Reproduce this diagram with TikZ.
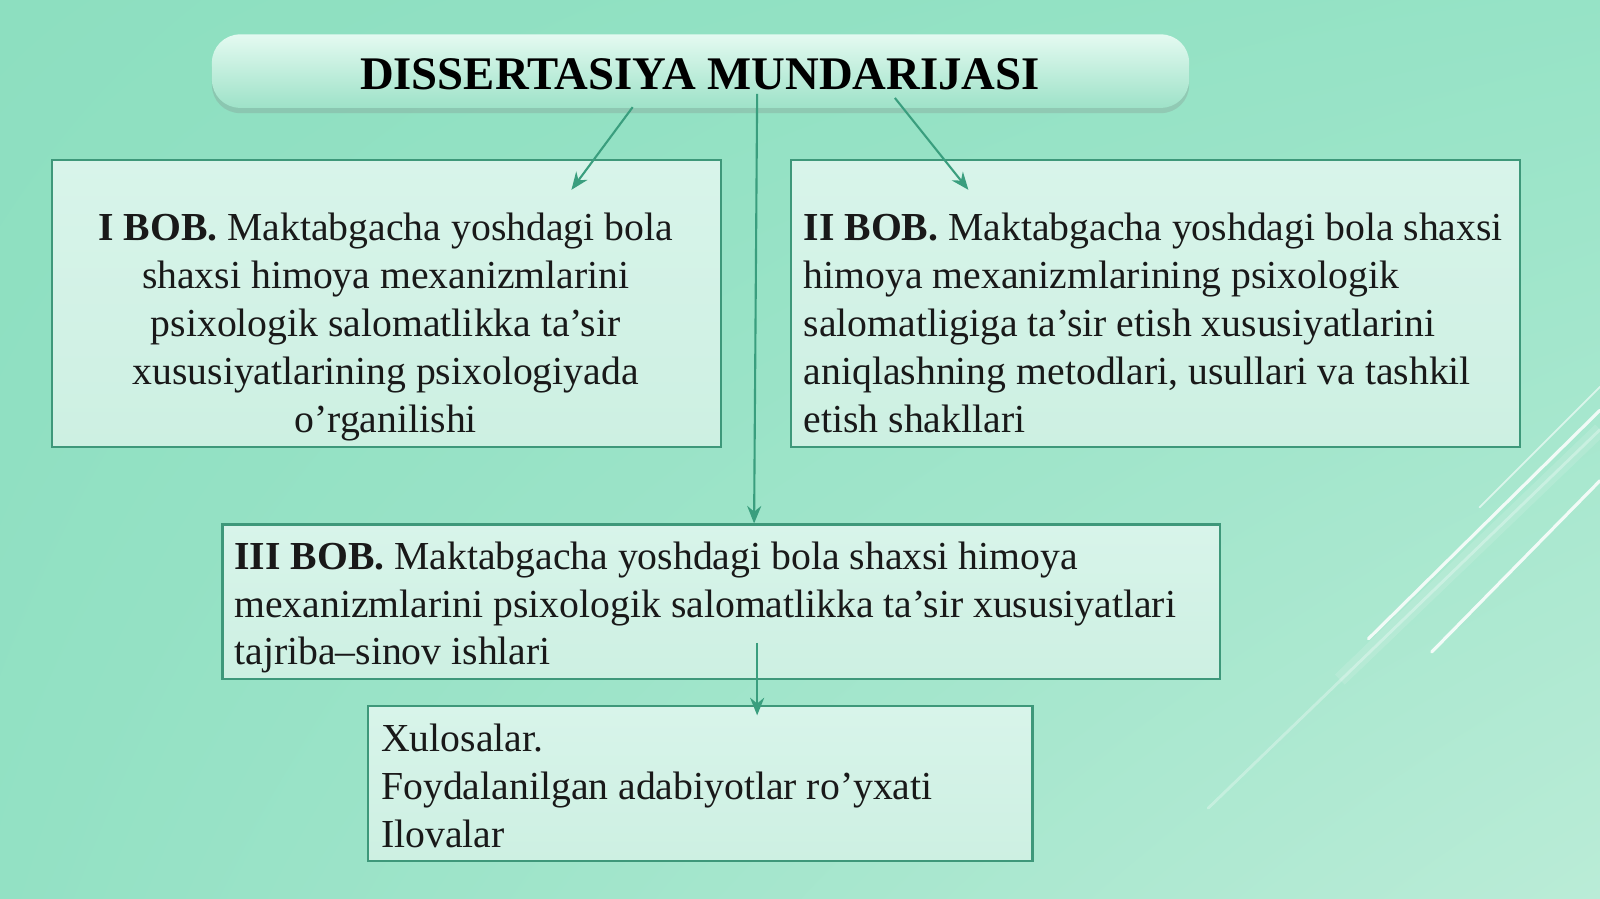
\documentclass[tikz,border=0pt]{standalone}
\usepackage{fontspec}
\setmainfont{Liberation Serif}
\usetikzlibrary{shadows,arrows.meta,shadings}
\definecolor{bgA}{RGB}{141,223,192}
\definecolor{bgB}{RGB}{150,227,198}
\definecolor{bgC}{RGB}{147,225,196}
\definecolor{bgD}{RGB}{186,236,215}
\definecolor{boxfill}{RGB}{216,244,234}
\definecolor{boxfillB}{RGB}{205,240,226}
\definecolor{boxline}{RGB}{62,152,122}
\definecolor{arrowcol}{RGB}{58,158,126}
\definecolor{titletop}{RGB}{228,250,241}
\definecolor{titlebot}{RGB}{158,226,200}
\tikzset{
  x=0.010204cm, y=-0.010204cm,
  chapbox/.style={draw=boxline, line width=0.6pt, top color=boxfill, bottom color=boxfillB, shading angle=0, inner sep=0pt, anchor=north west},
  bodytext/.style={inner sep=0pt, font=\fontsize{11.3}{13.64}\selectfont, text=black!90},
  conn/.style={draw=arrowcol, line width=0.6pt, -{Stealth[length=5pt,width=4pt]}},
  deco/.style={draw=white, line cap=round},
}
\begin{document}
\begin{tikzpicture}
\useasboundingbox (0,0) rectangle (1568,881);
\shade[upper left=bgA, upper right=bgB, lower left=bgC, lower right=bgD] (0,0) rectangle (1568,881);
% decorative lines
\draw[deco, line width=0.5pt, opacity=0.6] (1450,497) -- (1568,379);
\draw[deco, line width=0.9pt, opacity=0.85] (1341,626) -- (1568,402);
\draw[deco, line width=0.9pt, opacity=0.85] (1403,639) -- (1568,471);
\draw[deco, line width=0.8pt, opacity=0.3] (1184,792) -- (1568,421);
\draw[white, line width=4pt, opacity=0.12] (1313,666) -- (1568,421);
% title
\node[rounded corners=8pt, top color=titletop, bottom color=titlebot, drop shadow={opacity=0.25, shadow xshift=0pt, shadow yshift=-1.5pt}, minimum width=9.775cm, minimum height=0.735cm, anchor=north west, inner sep=0pt] (title) at (207,33) {};
\node[inner sep=0pt, anchor=base, font=\fontsize{13.3}{15}\selectfont\bfseries] (titletext) at (686,88) {DISSERTASIYA MUNDARIJASI};
% boxes
\node[chapbox, minimum width=6.694cm, minimum height=2.867cm] (b1) at (50,156) {};
\node[chapbox, minimum width=7.296cm, minimum height=2.867cm] (b2) at (774,156) {};
\node[chapbox, minimum width=9.98cm, minimum height=1.541cm] (b3) at (217,513) {};
\node[chapbox, minimum width=6.643cm, minimum height=1.551cm] (b4) at (360,691) {};
% texts
\node[bodytext, align=center, anchor=north] (t1) at (378,208) {\textbf{I BOB.} Maktabgacha yoshdagi bola\\shaxsi himoya mexanizmlarini\\psixologik salomatlikka ta’sir\\xususiyatlarining psixologiyada\\o’rganilishi};
\node[bodytext, align=left, anchor=north west] (t2) at (787,208) {\textbf{II BOB.} Maktabgacha yoshdagi bola shaxsi\\himoya mexanizmlarining psixologik\\salomatligiga ta’sir etish xususiyatlarini\\aniqlashning metodlari, usullari va tashkil\\etish shakllari};
\node[bodytext, align=left, anchor=north west] (t3) at (229,530) {\textbf{III BOB.} Maktabgacha yoshdagi bola shaxsi himoya\\mexanizmlarini psixologik salomatlikka ta’sir xususiyatlari\\tajriba–sinov ishlari};
\node[bodytext, align=left, anchor=north west] (t4) at (373,709) {Xulosalar.\\Foydalanilgan adabiyotlar ro’yxati\\Ilovalar};
% connector endpoints
\coordinate (s1) at (620,105);
\coordinate (e1) at (560,186);
\coordinate (s2) at (877,96);
\coordinate (e2) at (949,186);
\coordinate (s3) at (742,92);
\coordinate (e3) at (739,513);
\coordinate (s4) at (742,630);
\coordinate (e4) at (742,701);
\draw[conn] (s1) -- (e1);
\draw[conn] (s2) -- (e2);
\draw[conn] (s3) -- (e3);
\draw[conn] (s4) -- (e4);
\end{tikzpicture}
\end{document}
